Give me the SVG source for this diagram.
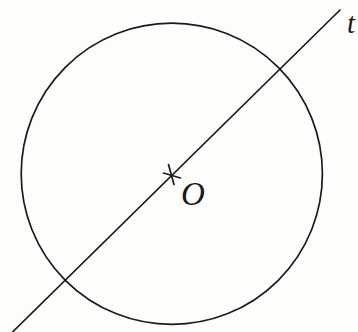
<svg xmlns="http://www.w3.org/2000/svg" width="358" height="332" viewBox="0 0 358 332">
<style>
.ln{fill:none;stroke:#1a1a1a;stroke-width:1.7;stroke-linecap:round}
.lb{font-family:"Liberation Serif","Times New Roman",serif;font-style:italic;fill:#1a1a1a}
</style>
<rect width="358" height="332" fill="#fdfdfb"/>
<g id="circle"><circle class="ln" cx="171.8" cy="173.8" r="150.6"/></g>
<g id="connectors"><line id="t-line" class="ln" x1="12" y1="332.5" x2="340" y2="10"/></g>
<g id="O">
<line class="ln" x1="168.5" y1="164.5" x2="174" y2="184.5"/>
<line class="ln" x1="163.5" y1="173" x2="180.5" y2="178"/>
<text class="lb" x="181" y="205" font-size="33">O</text>
</g>
<g id="t"><text class="lb" x="347" y="33" font-size="29">t</text></g>
</svg>
